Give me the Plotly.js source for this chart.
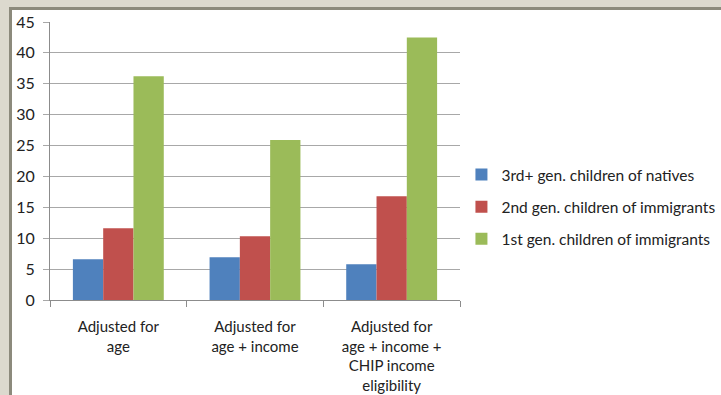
<!DOCTYPE html>
<html>
<head>
<meta charset="utf-8">
<script src="https://cdn.plot.ly/plotly-3.0.1.min.js"></script>
<style>
  html, body { margin: 0; padding: 0; width: 721px; height: 395px; overflow: hidden; background: #dcd9ce; }
  #frame { position: absolute; left: 9px; top: 7px; right: 0; bottom: 0; background: #ffffff;
           border-left: 3px solid #8c8a7c; border-top: 3px solid #8c8a7c; }
  #chart { position: absolute; left: 0; top: 0; width: 721px; height: 395px; }
</style>
</head>
<body>
<div id="frame"></div>
<div id="chart"></div>
<script>
const categories = ["Adjusted for<br>age", "Adjusted for<br>age + income", "Adjusted for<br>age + income +<br>CHIP income<br>eligibility"];
const seriesNames = ["3rd+ gen. children of natives", "2nd gen. children of immigrants", "1st gen. children of immigrants"];
const thirdGen = [6.6, 6.9, 5.8];
const secondGen = [11.6, 10.3, 16.8];
const firstGen = [36.2, 25.9, 42.5];
const colors = ["#4f81bd", "#c0504d", "#9bbb59"];
const yTicks = [0, 5, 10, 15, 20, 25, 30, 35, 40, 45];

const seriesValues = [thirdGen, secondGen, firstGen];
const traces = seriesValues.map((vals, i) => ({
  type: "bar",
  name: seriesNames[i],
  x: categories,
  y: vals,
  marker: { color: colors[i] },
  legendgroup: "g" + i,
  hoverinfo: "x+y"
}));

const layout = {
  width: 721, height: 395,
  paper_bgcolor: "rgba(0,0,0,0)",
  plot_bgcolor: "rgba(0,0,0,0)",
  margin: { l: 50, r: 261, t: 21.5, b: 95, pad: 0 },
  barmode: "group",
  bargap: 0.335,
  bargroupgap: 0,
  font: { family: "Lato, 'Open Sans', sans-serif", size: 15, color: "#222" },
  xaxis: {
    type: "category",
    showgrid: false,
    showline: true, linecolor: "#8c8c8c", linewidth: 1,
    ticks: "outside", tickson: "boundaries", ticklen: 6, tickcolor: "#8c8c8c",
    tickfont: { size: 15, color: "#222" },
    ticklabelstandoff: 13,
    zeroline: false
  },
  yaxis: {
    range: [0, 45],
    tickvals: yTicks,
    showgrid: true, gridcolor: "#a8a8a8", gridwidth: 1,
    showline: true, linecolor: "#8c8c8c", linewidth: 1,
    ticks: "outside", ticklen: 6, tickcolor: "#a8a8a8",
    tickfont: { size: 16, color: "#222" },
    ticklabelstandoff: 5,
    zeroline: false
  },
  showlegend: true,
  legend: {
    xref: "container", yref: "container",
    x: 0.6400, xanchor: "left",
    y: 0.476, yanchor: "middle",
    font: { size: 15.5, color: "#222" },
    tracegroupgap: 9,
    bgcolor: "rgba(0,0,0,0)"
  }
};

Plotly.newPlot("chart", traces, layout, { displayModeBar: false, staticPlot: true });
</script>
</body>
</html>
